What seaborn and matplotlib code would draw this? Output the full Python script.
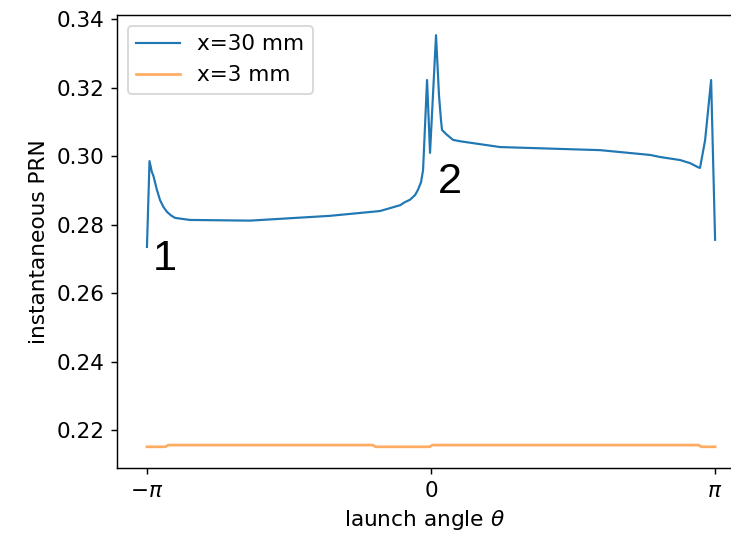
import numpy as np
import pandas as pd
import matplotlib
matplotlib.use('Agg')
import matplotlib.pyplot as plt
import seaborn as sns

# launch angle in units of pi, PRN
theta_30 = [-1.0, -0.991, -0.983, -0.977, -0.966, -0.954, -0.942, -0.930,
            -0.915, -0.901, -0.849, -0.637, -0.356, -0.180, -0.109, -0.092,
            -0.074, -0.056, -0.046, -0.035, -0.028, -0.014, -0.0035, 0.0176,
            0.028, 0.035, 0.0387, 0.053, 0.0775, 0.102, 0.243, 0.595, 0.771,
            0.806, 0.877, 0.912, 0.940, 0.947, 0.965, 0.979, 0.986, 1.0]
prn_30 = [0.2735, 0.2986, 0.2955, 0.2942, 0.2905, 0.2872, 0.2852, 0.2838,
          0.2827, 0.2820, 0.2814, 0.2812, 0.2826, 0.2840, 0.2857, 0.2866,
          0.2873, 0.2887, 0.2902, 0.2925, 0.2960, 0.3223, 0.3010, 0.3354,
          0.3179, 0.3106, 0.3077, 0.3065, 0.3048, 0.3044, 0.3027, 0.3018,
          0.3004, 0.2998, 0.2989, 0.2980, 0.2968, 0.2966, 0.3048, 0.3165,
          0.3223, 0.2756]

theta_3 = [-1.0, -0.935, -0.925, -0.205, -0.195, -0.005, 0.005, 0.942,
           0.952, 1.0]
prn_3 = [0.2151, 0.2151, 0.2156, 0.2156, 0.2151, 0.2151, 0.2156, 0.2156,
         0.2151, 0.2151]

df30 = pd.DataFrame({'theta': np.pi * np.array(theta_30), 'prn': prn_30})
df3 = pd.DataFrame({'theta': np.pi * np.array(theta_3), 'prn': prn_3})

plt.rcParams['font.size'] = 12

fig = plt.figure(figsize=(731 / 130, 539 / 130), dpi=130)
ax = fig.add_axes([0.160, 0.1317, 0.84, 0.8405])

sns.lineplot(data=df30, x='theta', y='prn', ax=ax, color='#1f77b4',
             lw=1.2, label='x=30 mm', estimator=None, sort=False)
sns.lineplot(data=df3, x='theta', y='prn', ax=ax, color='#ff7f0e',
             lw=1.5, alpha=0.65, label='x=3 mm', estimator=None, sort=False)

ax.text(-0.938 * np.pi, 0.2668, '1', fontsize=24, family='Liberation Sans',
        ha='center', va='baseline')
ax.text(0.067 * np.pi, 0.2893, '2', fontsize=24, family='Liberation Sans',
        ha='center', va='baseline')

ax.set_xticks([-np.pi, 0, np.pi])
ax.set_xticklabels([r'$-\pi$', '0', r'$\pi$'])
ax.set_yticks([0.22, 0.24, 0.26, 0.28, 0.30, 0.32, 0.34])
ax.set_xlim(-1.1056 * np.pi, 1.056 * np.pi)
ax.set_ylim(0.2089, 0.3413)
ax.spines['right'].set_visible(False)
ax.set_xlabel(r'launch angle $\theta$')
ax.set_ylabel('instantaneous PRN')
ax.legend(loc='upper left')

fig.savefig('out.png', dpi=130)
